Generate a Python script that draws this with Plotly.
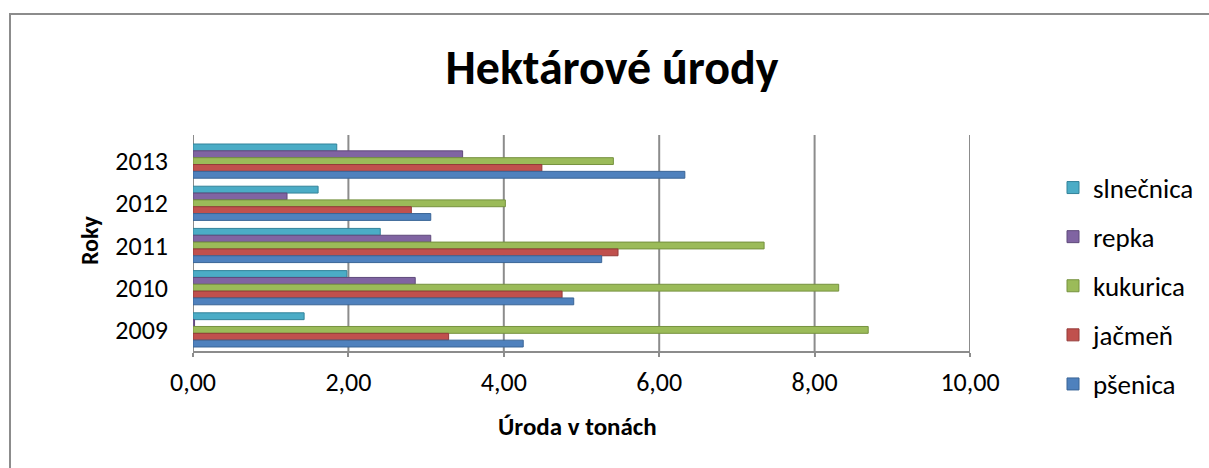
import plotly.graph_objects as go

years = ["2009", "2010", "2011", "2012", "2013"]
psenica = [4.25, 4.90, 5.26, 3.06, 6.33]
jacmen = [3.29, 4.75, 5.47, 2.81, 4.49]
kukurica = [8.69, 8.31, 7.35, 4.02, 5.41]
repka = [0.02, 2.86, 3.06, 1.21, 3.47]
slnecnica = [1.43, 1.98, 2.41, 1.61, 1.85]

x_ticks = [0, 2, 4, 6, 8, 10]
x_tick_labels = ["0,00", "2,00", "4,00", "6,00", "8,00", "10,00"]

# legend / in-group order: top to bottom
series = [
    ("slnečnica", slnecnica, "#4BACC6", "#33839A"),
    ("repka", repka, "#8064A2", "#5F4A7B"),
    ("kukurica", kukurica, "#9BBB59", "#76923F"),
    ("jačmeň", jacmen, "#C0504D", "#943B39"),
    ("pšenica", psenica, "#4F81BD", "#3A6596"),
]

FONT = "Carlito, Lato, 'Open Sans', sans-serif"
GRID = "#8C8C8C"

fig = go.Figure()
for name, vals, col, edge in series:
    fig.add_trace(go.Bar(
        y=years, x=vals, name=name, orientation="h",
        marker=dict(color=col, line=dict(color=edge, width=1)),
        legendgroup=name,
    ))

W, H = 1209, 468
L, R, T, B = 193, 239, 140, 117
pw = W - L - R
ph = H - T - B

def px_x(p):
    return (p - L) / pw

def px_y(p):
    return (H - B - p) / ph

shapes = [
    dict(type="rect", xref="paper", yref="paper",
         x0=px_x(10), x1=px_x(1240), y0=px_y(14), y1=px_y(500),
         line=dict(color=GRID, width=2), fillcolor="rgba(0,0,0,0)",
         layer="below"),
]
for v in x_ticks:
    shapes.append(dict(type="line", xref="x", yref="paper",
                       x0=v, x1=v, y0=px_y(351), y1=px_y(135),
                       line=dict(color=GRID, width=2), layer="below"))

fig.update_layout(
    width=W, height=H,
    margin=dict(l=L, r=R, t=T, b=B, autoexpand=False),
    paper_bgcolor="white", plot_bgcolor="white",
    barmode="group", bargap=0.19, bargroupgap=0.0,
    font=dict(family=FONT, size=26, color="black"),
    showlegend=True,
    title=dict(
        text="<b>Hektárové úrody</b>",
        xref="container", yref="container",
        x=612 / W, y=1 - 67 / H, xanchor="center", yanchor="middle",
        font=dict(family=FONT, size=48, color="black"),
    ),
    legend=dict(
        x=px_x(1053), xanchor="left",
        y=px_y(286), yanchor="middle",
        traceorder="grouped",
        tracegroupgap=11,
        maxheight=400,
        font=dict(family=FONT, size=27, color="black"),
        itemclick=False,
    ),
    xaxis=dict(
        range=[0, 10], tickvals=x_ticks, ticktext=x_tick_labels,
        showgrid=False, zeroline=False,
        showline=True, linecolor=GRID, linewidth=2,
        ticks="outside", ticklen=4, tickwidth=2, tickcolor=GRID,
        ticklabelstandoff=3, automargin=False,
        tickfont=dict(size=26), fixedrange=True,
    ),
    yaxis=dict(
        type="category", categoryorder="array", categoryarray=years[::-1],
        autorange="reversed",
        showgrid=False, zeroline=False, showline=False,
        ticks="", ticklabelstandoff=24, automargin=False,
        tickfont=dict(size=26), fixedrange=True,
    ),
    annotations=[
        dict(text="<b>Úroda v tonách</b>", xref="paper", yref="paper",
             x=px_x(577), y=px_y(426), xanchor="center", yanchor="middle",
             showarrow=False, font=dict(family=FONT, size=25, color="black")),
        dict(text="<b>Roky</b>", xref="paper", yref="paper",
             x=px_x(89), y=px_y(240), xanchor="center", yanchor="middle",
             textangle=-90,
             showarrow=False, font=dict(family=FONT, size=24, color="black")),
    ],
    shapes=shapes,
)

fig.write_html("out.html", config={"displayModeBar": False},
               post_script="document.body.style.margin='0';")
